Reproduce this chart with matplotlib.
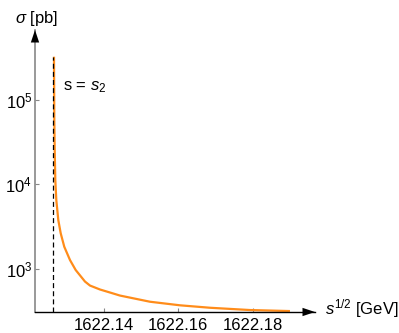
import matplotlib
matplotlib.use("Agg")
import matplotlib.pyplot as plt
import numpy as np

# Values
sqrt_s = [1622.12666, 1622.12674, 1622.12685, 1622.12701, 1622.12728,
          1622.12781, 1622.12846, 1622.12942, 1622.13095, 1622.13248,
          1622.13498, 1622.13632, 1622.13901, 1622.14169, 1622.14438,
          1622.15243, 1622.16048, 1622.16854, 1622.17927, 1622.19000]
sigma = [3.2e5, 5.73e4, 2.54e4, 1.12e4, 6520,
         3790, 2640, 1830, 1277, 973,
         711, 638, 573, 528, 486,
         411, 373, 349, 328, 319]
s2_pos = 1622.1265
x_ticks = [1622.14, 1622.16, 1622.18]
x_tick_labels = ["1622.14", "1622.16", "1622.18"]
y_ticks = [1e3, 1e4, 1e5]

plt.rcParams["font.family"] = ["Liberation Sans", "DejaVu Sans"]
plt.rcParams["mathtext.fontset"] = "custom"
plt.rcParams["mathtext.rm"] = "Liberation Sans"
plt.rcParams["mathtext.it"] = "Liberation Sans:italic"
plt.rcParams["mathtext.default"] = "regular"

fig = plt.figure(figsize=(3.99, 3.33), dpi=100)
ax = fig.add_axes([35 / 399, 1 - 312 / 333, 280 / 399, 282 / 333])

ax.plot(sqrt_s, sigma, color="#ff8c1a", lw=1.6, solid_capstyle="butt",
        solid_joinstyle="round")
ax.plot([s2_pos, s2_pos], [311, sigma[0]], color="black", lw=0.9,
        linestyle=(0, (4, 2.5)))

ax.set_yscale("log")
ax.set_xlim(1622.12156, 1622.19672)
ax.set_ylim(311, 6.61e5)

ax.set_xticks(x_ticks)
ax.set_xticklabels(x_tick_labels)
ax.set_yticks(y_ticks)
ax.minorticks_off()
ax.tick_params(axis="both", direction="in", length=3, width=0.8,
               color="#888888", labelsize=12)
ax.tick_params(axis="x", pad=4)
ax.tick_params(axis="y", pad=2)

for side in ["top", "right"]:
    ax.spines[side].set_visible(False)
ax.spines["left"].set_color("#888888")
ax.spines["left"].set_linewidth(1.2)
ax.spines["bottom"].set_color("black")
ax.spines["bottom"].set_linewidth(1.0)

# arrow heads
arrow = dict(arrowstyle="-|>,head_length=0.9,head_width=0.3", color="black",
             lw=0, shrinkA=0, shrinkB=0, mutation_scale=10)
ax.annotate("", xy=(0, 1), xytext=(0, 0.99), xycoords="axes fraction",
            arrowprops=arrow, annotation_clip=False)
ax.annotate("", xy=(1, 0), xytext=(0.99, 0), xycoords="axes fraction",
            arrowprops=arrow, annotation_clip=False)

fig.text(15 / 399, 1 - 18 / 333, r"$\it{\sigma}$ [pb]", fontsize=12,
         ha="left", va="center")
fig.text(325 / 399, 1 - 309 / 333, r"$\it{s}^{1/2}$ [GeV]", fontsize=12,
         ha="left", va="center")
fig.text(63 / 399, 1 - 87 / 333, r"s = $\it{s}_{2}$", fontsize=12,
         ha="left", va="center")

fig.savefig("out.png", dpi=100)
